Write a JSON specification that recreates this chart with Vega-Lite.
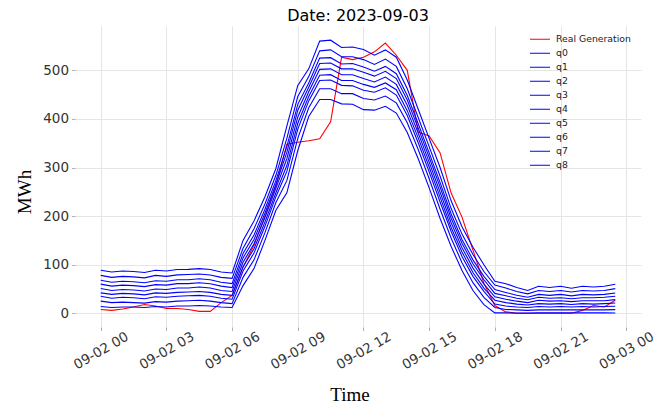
{
  "$schema": "https://vega.github.io/schema/vega-lite/v6.json",
  "width": 566,
  "height": 301,
  "autosize": {"type": "none"},
  "padding": {"left": 75, "top": 26, "right": 25, "bottom": 80},
  "background": "white",
  "title": {"text": "Date: 2023-09-03", "font": "DejaVu Sans", "fontSize": 16, "fontWeight": "normal", "color": "#000000", "offset": 2},
  "data": {"values": [
    {"t": "2023-09-02T00:00:00", "Real Generation": 8, "q0": 14, "q1": 25, "q2": 35, "q3": 42, "q4": 51, "q5": 60, "q6": 68, "q7": 78, "q8": 88.5},
    {"t": "2023-09-02T00:30:00", "Real Generation": 6, "q0": 12, "q1": 22, "q2": 31, "q3": 39, "q4": 47, "q5": 56, "q6": 64, "q7": 74, "q8": 85},
    {"t": "2023-09-02T01:00:00", "Real Generation": 9, "q0": 13, "q1": 23, "q2": 33, "q3": 41, "q4": 49, "q5": 58, "q6": 66, "q7": 76, "q8": 87},
    {"t": "2023-09-02T01:30:00", "Real Generation": 13, "q0": 13, "q1": 22, "q2": 32, "q3": 40, "q4": 48, "q5": 57, "q6": 65, "q7": 75, "q8": 86},
    {"t": "2023-09-02T02:00:00", "Real Generation": 18, "q0": 12, "q1": 21, "q2": 30, "q3": 38, "q4": 46, "q5": 55, "q6": 63, "q7": 73, "q8": 84},
    {"t": "2023-09-02T02:30:00", "Real Generation": 15, "q0": 14, "q1": 24, "q2": 34, "q3": 42, "q4": 50, "q5": 59, "q6": 67, "q7": 78, "q8": 88.5},
    {"t": "2023-09-02T03:00:00", "Real Generation": 10, "q0": 13, "q1": 23, "q2": 33, "q3": 41, "q4": 49, "q5": 58, "q6": 66, "q7": 76, "q8": 87},
    {"t": "2023-09-02T03:30:00", "Real Generation": 10, "q0": 15, "q1": 25, "q2": 35, "q3": 43, "q4": 52, "q5": 61, "q6": 69, "q7": 79, "q8": 90},
    {"t": "2023-09-02T04:00:00", "Real Generation": 8, "q0": 15, "q1": 26, "q2": 36, "q3": 44, "q4": 52, "q5": 61, "q6": 69, "q7": 80, "q8": 90.5},
    {"t": "2023-09-02T04:30:00", "Real Generation": 4, "q0": 16, "q1": 27, "q2": 37, "q3": 45, "q4": 54, "q5": 63, "q6": 71, "q7": 81, "q8": 92},
    {"t": "2023-09-02T05:00:00", "Real Generation": 4, "q0": 15, "q1": 25, "q2": 35, "q3": 43, "q4": 52, "q5": 61, "q6": 69, "q7": 79, "q8": 90},
    {"t": "2023-09-02T05:30:00", "Real Generation": 22, "q0": 13, "q1": 22, "q2": 31, "q3": 39, "q4": 47, "q5": 56, "q6": 64, "q7": 74, "q8": 85},
    {"t": "2023-09-02T06:00:00", "Real Generation": 37, "q0": 12, "q1": 20, "q2": 29, "q3": 37, "q4": 45, "q5": 53, "q6": 61, "q7": 72, "q8": 83},
    {"t": "2023-09-02T06:30:00", "Real Generation": 95, "q0": 57, "q1": 74, "q2": 87, "q3": 96, "q4": 105, "q5": 114, "q6": 123, "q7": 134, "q8": 150},
    {"t": "2023-09-02T07:00:00", "Real Generation": 140, "q0": 92, "q1": 110, "q2": 124, "q3": 133, "q4": 143, "q5": 152, "q6": 161, "q7": 174, "q8": 190},
    {"t": "2023-09-02T07:30:00", "Real Generation": 200, "q0": 150, "q1": 166, "q2": 179, "q3": 188, "q4": 197, "q5": 206, "q6": 214, "q7": 225, "q8": 240},
    {"t": "2023-09-02T08:00:00", "Real Generation": 262, "q0": 212, "q1": 228, "q2": 240, "q3": 248, "q4": 257, "q5": 265, "q6": 273, "q7": 284, "q8": 298},
    {"t": "2023-09-02T08:30:00", "Real Generation": 348, "q0": 248, "q1": 273, "q2": 292, "q3": 304, "q4": 318, "q5": 331, "q6": 343, "q7": 360, "q8": 385},
    {"t": "2023-09-02T09:00:00", "Real Generation": 352, "q0": 335, "q1": 360, "q2": 379, "q3": 391, "q4": 404, "q5": 418, "q6": 430, "q7": 446, "q8": 469},
    {"t": "2023-09-02T09:30:00", "Real Generation": 355, "q0": 405, "q1": 423, "q2": 437, "q3": 446, "q4": 456, "q5": 465, "q6": 474, "q7": 487, "q8": 503},
    {"t": "2023-09-02T10:00:00", "Real Generation": 359, "q0": 440, "q1": 462, "q2": 479, "q3": 490, "q4": 502, "q5": 514, "q6": 525, "q7": 540, "q8": 560},
    {"t": "2023-09-02T10:30:00", "Real Generation": 394, "q0": 440, "q1": 462, "q2": 480, "q3": 491, "q4": 503, "q5": 515, "q6": 526, "q7": 542, "q8": 562},
    {"t": "2023-09-02T11:00:00", "Real Generation": 527, "q0": 431, "q1": 452, "q2": 469, "q3": 479, "q4": 491, "q5": 503, "q6": 513, "q7": 528, "q8": 547},
    {"t": "2023-09-02T11:30:00", "Real Generation": 522, "q0": 430, "q1": 452, "q2": 468, "q3": 479, "q4": 491, "q5": 503, "q6": 514, "q7": 528, "q8": 548},
    {"t": "2023-09-02T12:00:00", "Real Generation": 527, "q0": 419, "q1": 442, "q2": 459, "q3": 471, "q4": 483, "q5": 496, "q6": 507, "q7": 522, "q8": 543},
    {"t": "2023-09-02T12:30:00", "Real Generation": 538, "q0": 418, "q1": 439, "q2": 455, "q3": 465, "q4": 476, "q5": 488, "q6": 498, "q7": 512, "q8": 531},
    {"t": "2023-09-02T13:00:00", "Real Generation": 556, "q0": 426, "q1": 447, "q2": 464, "q3": 474, "q4": 486, "q5": 498, "q6": 508, "q7": 523, "q8": 542},
    {"t": "2023-09-02T13:30:00", "Real Generation": 531, "q0": 412, "q1": 433, "q2": 449, "q3": 460, "q4": 471, "q5": 483, "q6": 493, "q7": 508, "q8": 527},
    {"t": "2023-09-02T14:00:00", "Real Generation": 500, "q0": 372, "q1": 392, "q2": 407, "q3": 417, "q4": 428, "q5": 439, "q6": 448, "q7": 462, "q8": 480},
    {"t": "2023-09-02T14:30:00", "Real Generation": 373, "q0": 318, "q1": 337, "q2": 351, "q3": 361, "q4": 371, "q5": 381, "q6": 390, "q7": 403, "q8": 420},
    {"t": "2023-09-02T15:00:00", "Real Generation": 365, "q0": 258, "q1": 277, "q2": 291, "q3": 301, "q4": 311, "q5": 321, "q6": 330, "q7": 343, "q8": 360},
    {"t": "2023-09-02T15:30:00", "Real Generation": 330, "q0": 195, "q1": 214, "q2": 229, "q3": 239, "q4": 249, "q5": 260, "q6": 269, "q7": 282, "q8": 300},
    {"t": "2023-09-02T16:00:00", "Real Generation": 248, "q0": 138, "q1": 155, "q2": 169, "q3": 177, "q4": 187, "q5": 196, "q6": 205, "q7": 216, "q8": 232},
    {"t": "2023-09-02T16:30:00", "Real Generation": 198, "q0": 88, "q1": 104, "q2": 117, "q3": 126, "q4": 135, "q5": 144, "q6": 152, "q7": 163, "q8": 178},
    {"t": "2023-09-02T17:00:00", "Real Generation": 130, "q0": 47, "q1": 63, "q2": 76, "q3": 84, "q4": 93, "q5": 102, "q6": 110, "q7": 121, "q8": 136},
    {"t": "2023-09-02T17:30:00", "Real Generation": 62, "q0": 18, "q1": 33, "q2": 45, "q3": 52, "q4": 60, "q5": 69, "q6": 76, "q7": 86, "q8": 100},
    {"t": "2023-09-02T18:00:00", "Real Generation": 16, "q0": 1, "q1": 12, "q2": 19, "q3": 27, "q4": 34, "q5": 41, "q6": 49, "q7": 58, "q8": 66},
    {"t": "2023-09-02T18:30:00", "Real Generation": 3, "q0": 1, "q1": 8, "q2": 15, "q3": 22, "q4": 29, "q5": 36, "q6": 43, "q7": 52, "q8": 61},
    {"t": "2023-09-02T19:00:00", "Real Generation": 0, "q0": 0.5, "q1": 7, "q2": 13, "q3": 19, "q4": 25, "q5": 31, "q6": 37, "q7": 45, "q8": 53},
    {"t": "2023-09-02T19:30:00", "Real Generation": 0, "q0": 0.5, "q1": 6, "q2": 12, "q3": 17, "q4": 22, "q5": 28, "q6": 33, "q7": 40, "q8": 47},
    {"t": "2023-09-02T20:00:00", "Real Generation": 0, "q0": 1, "q1": 7, "q2": 14, "q3": 20, "q4": 27, "q5": 33, "q6": 39, "q7": 47, "q8": 55.6},
    {"t": "2023-09-02T20:30:00", "Real Generation": 0, "q0": 1, "q1": 7, "q2": 13, "q3": 19, "q4": 25, "q5": 31, "q6": 37, "q7": 45, "q8": 53},
    {"t": "2023-09-02T21:00:00", "Real Generation": 0, "q0": 1, "q1": 7, "q2": 14, "q3": 20, "q4": 26, "q5": 32, "q6": 39, "q7": 47, "q8": 55.6},
    {"t": "2023-09-02T21:30:00", "Real Generation": 0, "q0": 1, "q1": 7, "q2": 13, "q3": 18, "q4": 24, "q5": 30, "q6": 36, "q7": 44, "q8": 51.5},
    {"t": "2023-09-02T22:00:00", "Real Generation": 6, "q0": 1, "q1": 7, "q2": 14, "q3": 20, "q4": 26, "q5": 32, "q6": 39, "q7": 47, "q8": 55.6},
    {"t": "2023-09-02T22:30:00", "Real Generation": 16, "q0": 1, "q1": 7, "q2": 13, "q3": 19, "q4": 26, "q5": 32, "q6": 38, "q7": 46, "q8": 54},
    {"t": "2023-09-02T23:00:00", "Real Generation": 13, "q0": 1, "q1": 7, "q2": 14, "q3": 20, "q4": 26, "q5": 33, "q6": 39, "q7": 47, "q8": 55.6},
    {"t": "2023-09-02T23:30:00", "Real Generation": 27, "q0": 0.6, "q1": 7.6, "q2": 14.4, "q3": 21.2, "q4": 28.2, "q5": 35, "q6": 41.8, "q7": 50.8, "q8": 59.7}
  ]},
  "transform": [
    {"fold": ["Real Generation", "q0", "q1", "q2", "q3", "q4", "q5", "q6", "q7", "q8"], "as": ["series", "value"]}
  ],
  "mark": {"type": "line", "strokeWidth": 1.1, "clip": true},
  "encoding": {
    "x": {
      "field": "t", "type": "temporal",
      "scale": {"domain": [
        {"year": 2023, "month": 9, "date": 1, "hours": 22, "minutes": 49, "seconds": 30},
        {"year": 2023, "month": 9, "date": 3, "hours": 0, "minutes": 40, "seconds": 30}
      ], "nice": false},
      "axis": {
        "title": "Time", "titleFont": "Liberation Serif", "titleFontSize": 19, "titleFontWeight": "normal", "titleColor": "#000000",
        "titleX": 274.5, "titleY": 73, "titleAlign": "center", "titleBaseline": "alphabetic",
        "values": [
          {"year": 2023, "month": 9, "date": 2, "hours": 0},
          {"year": 2023, "month": 9, "date": 2, "hours": 3},
          {"year": 2023, "month": 9, "date": 2, "hours": 6},
          {"year": 2023, "month": 9, "date": 2, "hours": 9},
          {"year": 2023, "month": 9, "date": 2, "hours": 12},
          {"year": 2023, "month": 9, "date": 2, "hours": 15},
          {"year": 2023, "month": 9, "date": 2, "hours": 18},
          {"year": 2023, "month": 9, "date": 2, "hours": 21},
          {"year": 2023, "month": 9, "date": 3, "hours": 0}
        ],
        "format": "%m-%d %H",
        "labelAngle": -30, "labelAlign": "center", "labelBaseline": "middle", "labelPadding": 20,
        "labelFont": "DejaVu Sans", "labelFontSize": 13.5, "labelColor": "#333333",
        "labelOverlap": false, "labelFlush": false,
        "domain": false, "tickSize": 3.5, "tickColor": "#b0b0b0", "tickWidth": 1,
        "grid": true, "gridColor": "#e5e5e5", "gridWidth": 1
      }
    },
    "y": {
      "field": "value", "type": "quantitative",
      "scale": {"domain": [-28.15, 591.15], "nice": false, "zero": false},
      "axis": {
        "title": "MWh", "titleFont": "Liberation Serif", "titleFontSize": 19, "titleFontWeight": "normal", "titleColor": "#000000",
        "titleX": -44.3, "titleY": 165.5, "titleAngle": -90, "titleAlign": "center", "titleBaseline": "alphabetic",
        "values": [0, 100, 200, 300, 400, 500],
        "labelFont": "DejaVu Sans", "labelFontSize": 13.5, "labelColor": "#333333", "labelPadding": 3,
        "domain": false, "tickSize": 3.5, "tickColor": "#b0b0b0", "tickWidth": 1,
        "grid": true, "gridColor": "#e5e5e5", "gridWidth": 1
      }
    },
    "color": {
      "field": "series", "type": "nominal",
      "scale": {
        "domain": ["Real Generation", "q0", "q1", "q2", "q3", "q4", "q5", "q6", "q7", "q8"],
        "range": ["#ff0000", "#0000ff", "#0000ff", "#0000ff", "#0000ff", "#0000ff", "#0000ff", "#0000ff", "#0000ff", "#0000ff"]
      },
      "legend": {
        "orient": "none", "legendX": 454, "legendY": 6.3, "title": null,
        "symbolType": "stroke", "symbolSize": 400, "symbolStrokeWidth": 1.1,
        "labelFont": "DejaVu Sans", "labelFontSize": 9.3, "labelColor": "#222222", "labelOffset": 5,
        "clipHeight": 14, "rowPadding": 0, "padding": 0
      }
    }
  },
  "config": {"view": {"stroke": null}}
}
